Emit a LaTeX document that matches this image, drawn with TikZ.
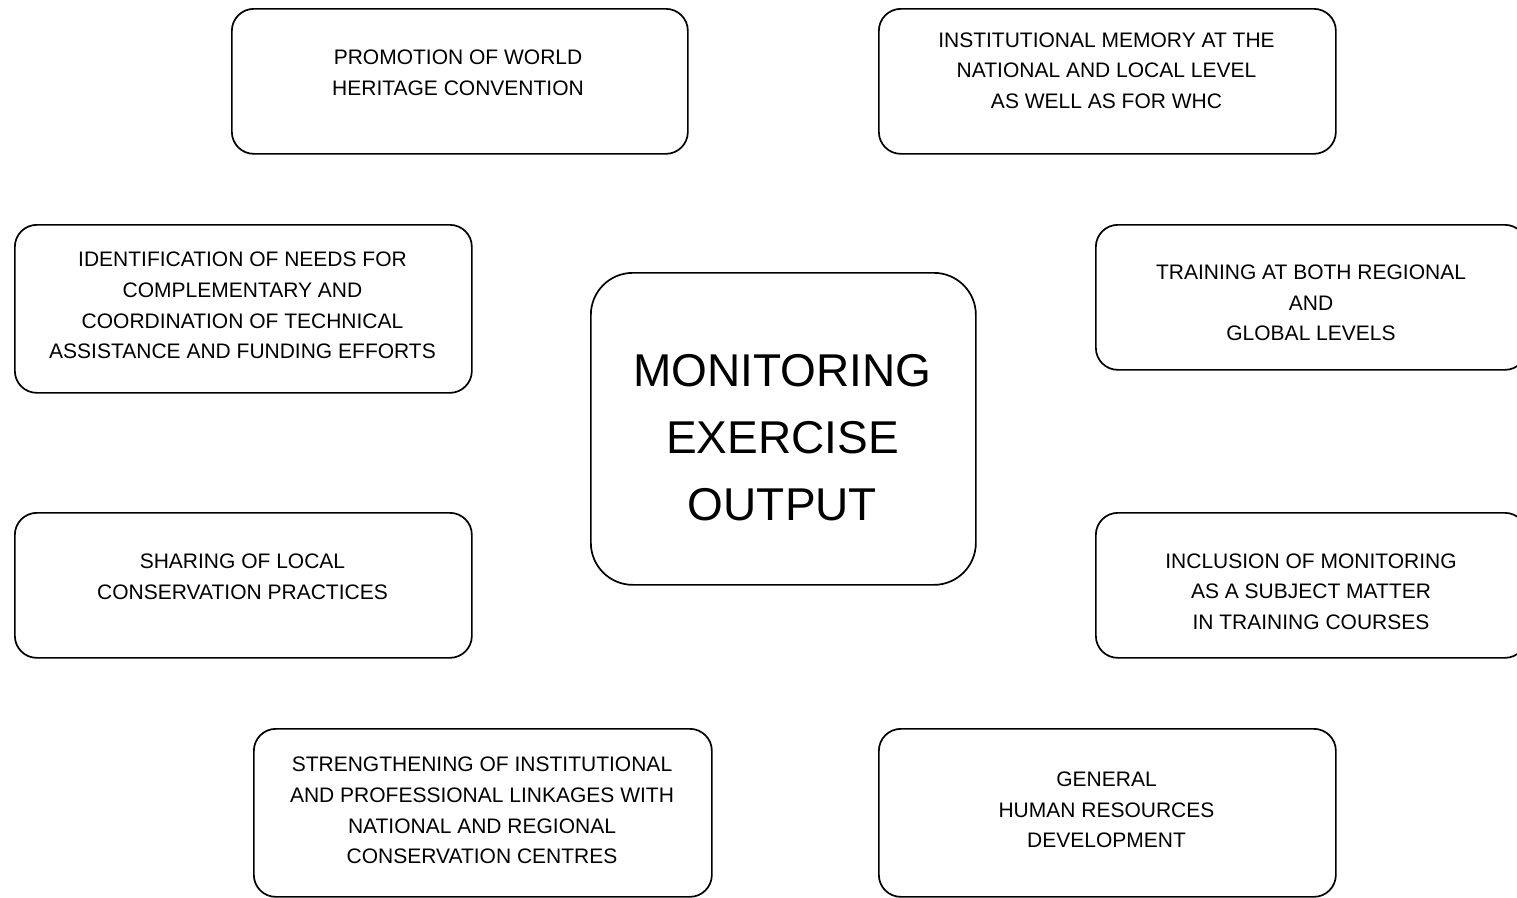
\documentclass[tikz,border=0pt]{standalone}
\usepackage{fontspec}
\setmainfont{Liberation Sans}
\begin{document}
\begin{tikzpicture}[x=1pt,y=-1pt,
  box/.style={draw=black,line width=1.7pt,rounded corners=22pt,inner sep=0pt,anchor=north west},
  bigbox/.style={draw=black,line width=1.7pt,rounded corners=42pt,inner sep=0pt,anchor=north west},
  txt/.style={align=center,inner sep=0pt,font=\fontsize{21}{30.7}\selectfont},
  bigtxt/.style={align=center,inner sep=0pt,font=\fontsize{46}{67}\selectfont}]
\fill[white] (0,0) rectangle (1517,897);
\useasboundingbox (0,0) rectangle (1517,897);
% boxes
\node[box,minimum width=456pt,minimum height=145pt] (b1) at (231,8) {};
\node[box,minimum width=457pt,minimum height=145pt] (b2) at (878,8) {};
\node[box,minimum width=457pt,minimum height=168pt] (b3) at (14,224) {};
\node[box,minimum width=431pt,minimum height=145pt] (b4) at (1095,224) {};
\node[bigbox,minimum width=385pt,minimum height=312pt] (b5) at (590,272) {};
\node[box,minimum width=457pt,minimum height=145pt] (b6) at (14,512) {};
\node[box,minimum width=431pt,minimum height=145pt] (b7) at (1095,512) {};
\node[box,minimum width=458pt,minimum height=168pt] (b8) at (253,728) {};
\node[box,minimum width=457pt,minimum height=168pt] (b9) at (878,728) {};
% texts
\node[txt] (t1) at (458,73) {PROMOTION OF WORLD\\HERITAGE CONVENTION};
\node[txt] (t2) at (1106.5,70.5) {INSTITUTIONAL MEMORY AT THE\\NATIONAL AND LOCAL LEVEL\\AS WELL AS FOR WHC};
\node[txt] (t3) at (242.5,305.5) {IDENTIFICATION OF NEEDS FOR\\COMPLEMENTARY AND\\COORDINATION OF TECHNICAL\\ASSISTANCE AND FUNDING EFFORTS};
\node[txt] (t4) at (1311,303) {TRAINING AT BOTH REGIONAL\\AND\\GLOBAL LEVELS};
\node[bigtxt] (t5) at (782.5,437.5) {MONITORING\\EXERCISE\\OUTPUT};
\node[txt] (t6) at (242.5,576.5) {SHARING OF LOCAL\\CONSERVATION PRACTICES};
\node[txt] (t7) at (1311,591.5) {INCLUSION OF MONITORING\\AS A SUBJECT MATTER\\IN TRAINING COURSES};
\node[txt] (t8) at (482,810.5) {STRENGTHENING OF INSTITUTIONAL\\AND PROFESSIONAL LINKAGES WITH\\NATIONAL AND REGIONAL\\CONSERVATION CENTRES};
\node[txt] (t9) at (1106.5,810) {GENERAL\\HUMAN RESOURCES\\DEVELOPMENT};
\end{tikzpicture}
\end{document}
